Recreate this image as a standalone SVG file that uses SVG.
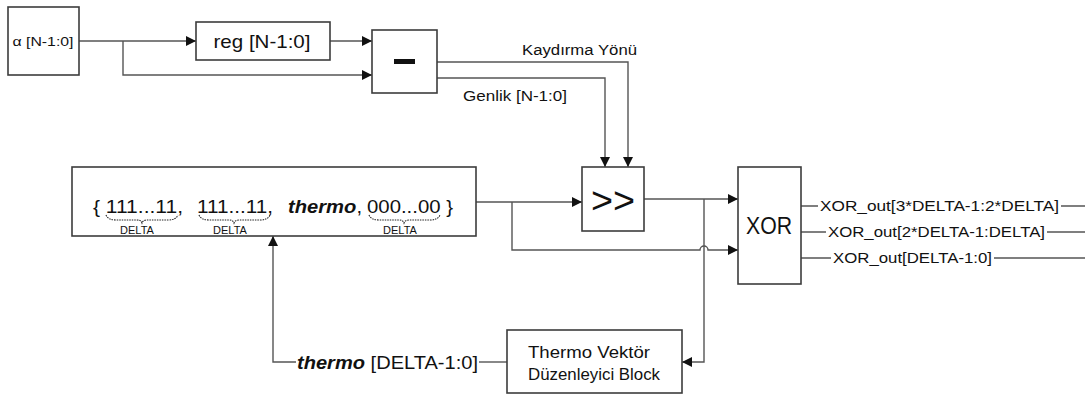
<svg xmlns="http://www.w3.org/2000/svg" width="1085" height="394" viewBox="0 0 1085 394">
<style>
.box{fill:#fff;stroke:#3c3c3c;stroke-width:1.6}
.wire{fill:none;stroke:#555;stroke-width:1.4}
.t{font-family:"Liberation Sans",Arial,sans-serif;fill:#111}
.brace{fill:none;stroke:#222;stroke-width:1.1;stroke-dasharray:1.5,1}
</style>
<defs>
<marker id="arr" viewBox="0 0 10 10" refX="10" refY="5" markerWidth="10" markerHeight="10" markerUnits="userSpaceOnUse" orient="auto">
<path d="M0,0 L10,5 L0,10 z" fill="#111"/>
</marker>
</defs>
<rect width="1085" height="394" fill="#fff"/>
<g id="connectors">
<path class="wire" d="M79,41 H196" marker-end="url(#arr)"/>
<path class="wire" d="M123,41 V75 H372" marker-end="url(#arr)"/>
<path class="wire" d="M330,41 H372" marker-end="url(#arr)"/>
<path class="wire" d="M437,62 H628 V167" marker-end="url(#arr)"/>
<path class="wire" d="M437,78 H605 V167" marker-end="url(#arr)"/>
<path class="wire" d="M476,202 H582" marker-end="url(#arr)"/>
<path class="wire" d="M512,202 V250 H700 A4,4 0 0 1 708,250 H738" marker-end="url(#arr)"/>
<path class="wire" d="M644,199 H738" marker-end="url(#arr)"/>
<path class="wire" d="M704,199 V362 H682" marker-end="url(#arr)"/>
<path class="wire" d="M507,362 H479"/>
<path class="wire" d="M296,362 H273 V236" marker-end="url(#arr)"/>
<path class="wire" d="M801,206 H818 M1061,206 H1085"/>
<path class="wire" d="M801,232 H826 M1047,232 H1085"/>
<path class="wire" d="M801,258 H831 M994,258 H1085"/>
<text class="t" x="522" y="55" font-size="14" textLength="115" lengthAdjust="spacingAndGlyphs">Kaydırma Yönü</text>
<text class="t" x="463" y="101" font-size="14" textLength="104" lengthAdjust="spacingAndGlyphs">Genlik [N-1:0]</text>
<text class="t" x="820" y="211" font-size="14" textLength="239" lengthAdjust="spacingAndGlyphs">XOR_out[3*DELTA-1:2*DELTA]</text>
<text class="t" x="828" y="237" font-size="14" textLength="217" lengthAdjust="spacingAndGlyphs">XOR_out[2*DELTA-1:DELTA]</text>
<text class="t" x="833" y="263" font-size="14" textLength="159" lengthAdjust="spacingAndGlyphs">XOR_out[DELTA-1:0]</text>
<text class="t" x="297" y="369" font-size="18" textLength="181" lengthAdjust="spacingAndGlyphs"><tspan font-weight="bold" font-style="italic">thermo</tspan> [DELTA-1:0]</text>
</g>
<g id="alpha">
<rect class="box" x="8" y="7" width="71" height="68"/>
<text class="t" x="43" y="46" font-size="13" text-anchor="middle" textLength="61" lengthAdjust="spacingAndGlyphs">α [N-1:0]</text>
</g>
<g id="reg">
<rect class="box" x="196" y="22" width="134" height="38"/>
<text class="t" x="262" y="48" font-size="19" text-anchor="middle" textLength="97" lengthAdjust="spacingAndGlyphs">reg [N-1:0]</text>
</g>
<g id="minus">
<rect class="box" x="372" y="30" width="65" height="63"/>
<rect x="394" y="59" width="21" height="5" fill="#111"/>
</g>
<g id="vector">
<rect class="box" x="72" y="167" width="404" height="69" stroke-width="2"/>
<text class="t" x="93" y="213" font-size="19" textLength="90" lengthAdjust="spacingAndGlyphs">{ 111...11,</text>
<text class="t" x="197" y="213" font-size="19" textLength="76" lengthAdjust="spacingAndGlyphs">111...11,</text>
<text class="t" x="288" y="213" font-size="19" textLength="74" lengthAdjust="spacingAndGlyphs"><tspan font-weight="bold" font-style="italic">thermo</tspan>,</text>
<text class="t" x="367" y="213" font-size="19" textLength="86" lengthAdjust="spacingAndGlyphs">000...00 }</text>
<path class="brace" d="M106,215 Q108,220 116,220 H137 Q141,220 142,223 Q143,220 147,220 H168 Q176,220 178,215"/>
<path class="brace" d="M199,215 Q201,220 209,220 H229 Q233,220 234,223 Q235,220 239,220 H260 Q268,220 270,215"/>
<path class="brace" d="M369,215 Q371,220 379,220 H399 Q403,220 404,223 Q405,220 409,220 H430 Q438,220 440,215"/>
<text class="t" x="137" y="234" font-size="11" text-anchor="middle">DELTA</text>
<text class="t" x="230" y="234" font-size="11" text-anchor="middle">DELTA</text>
<text class="t" x="400" y="234" font-size="11" text-anchor="middle">DELTA</text>
</g>
<g id="shift">
<rect class="box" x="582" y="167" width="62" height="64"/>
<text class="t" x="613" y="213" font-size="36" text-anchor="middle" textLength="44" lengthAdjust="spacingAndGlyphs">&gt;&gt;</text>
</g>
<g id="xor">
<rect class="box" x="738" y="167" width="63" height="117"/>
<text class="t" x="769" y="234" font-size="23" text-anchor="middle" textLength="46" lengthAdjust="spacingAndGlyphs">XOR</text>
</g>
<g id="thermo-block">
<rect class="box" x="507" y="330" width="175" height="63"/>
<text class="t" x="589" y="358" font-size="16" text-anchor="middle" textLength="122" lengthAdjust="spacingAndGlyphs">Thermo Vektör</text>
<text class="t" x="594" y="380" font-size="16" text-anchor="middle" textLength="132" lengthAdjust="spacingAndGlyphs">Düzenleyici Block</text>
</g>
</svg>
